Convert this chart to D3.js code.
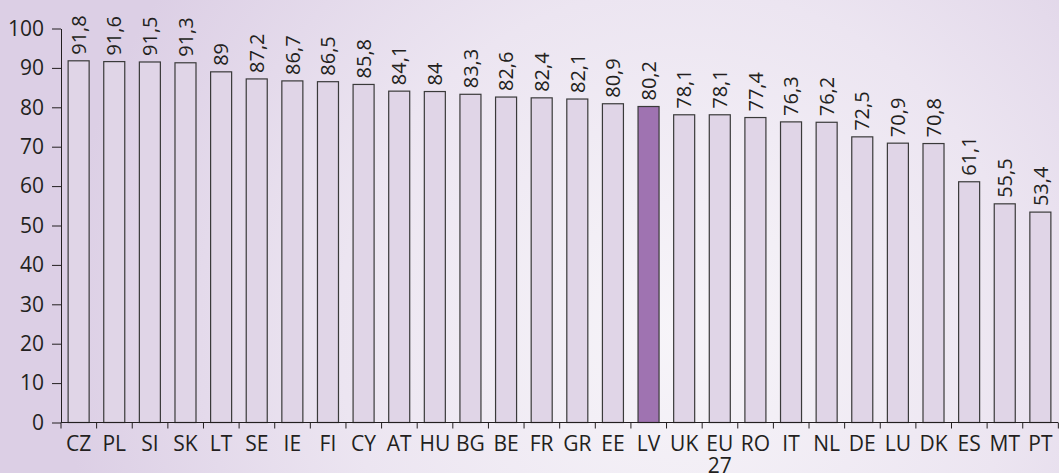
<!DOCTYPE html>
<html lang="lv">
<head>
<meta charset="UTF-8">
<title>Chart</title>
<script src="https://cdnjs.cloudflare.com/ajax/libs/d3/7.8.5/d3.min.js"></script>
<style>
    body { margin: 0; padding: 0; overflow: hidden; }
    svg { display: block; font-family: "Open Sans", "DejaVu Sans", sans-serif; }
    .tick text { fill: #231f20; }
</style>
</head>
<body>
<svg id="chart" width="1059" height="473"></svg>
<script>
// country codes and values
const countries = ["CZ","PL","SI","SK","LT","SE","IE","FI","CY","AT","HU","BG","BE","FR","GR","EE","LV","UK","EU 27","RO","IT","NL","DE","LU","DK","ES","MT","PT"];
const values = [91.8,91.6,91.5,91.3,89,87.2,86.7,86.5,85.8,84.1,84,83.3,82.6,82.4,82.1,80.9,80.2,78.1,78.1,77.4,76.3,76.2,72.5,70.9,70.8,61.1,55.5,53.4];
const highlight = "LV";
const yTicks = [0,10,20,30,40,50,60,70,80,90,100];

const width = 1059, height = 473;
const margin = {top: 28.5, right: 1, bottom: 50.5, left: 61};

const svg = d3.select("#chart");

// background
const defs = svg.append("defs");
const grad = defs.append("radialGradient")
    .attr("id", "bg")
    .attr("gradientUnits", "userSpaceOnUse")
    .attr("cx", 680).attr("cy", 330).attr("r", 620);
grad.append("stop").attr("offset", "0").attr("stop-color", "#f7f5f9");
grad.append("stop").attr("offset", "0.55").attr("stop-color", "#ece5f1");
grad.append("stop").attr("offset", "1").attr("stop-color", "#dccfe5");
svg.append("rect").attr("width", width).attr("height", height).attr("fill", "url(#bg)");

const x = d3.scaleBand()
    .domain(countries)
    .range([margin.left, width - margin.right])
    .paddingInner(0.41)
    .paddingOuter(0.2);

const y = d3.scaleLinear()
    .domain([0, 100])
    .range([height - margin.bottom, margin.top]);

// y axis
const yAxis = svg.append("g")
    .attr("transform", `translate(${margin.left},0)`)
    .call(d3.axisLeft(y).tickValues(yTicks).tickSize(9).tickPadding(8).tickSizeOuter(0));
yAxis.select(".domain").attr("stroke", "#231f20");
yAxis.selectAll(".tick line").attr("stroke", "#231f20");
yAxis.selectAll(".tick text").attr("font-size", 21).attr("font-family", "Open Sans, sans-serif");

// bars
svg.append("g").selectAll("rect")
    .data(countries)
    .join("rect")
    .attr("x", d => x(d))
    .attr("width", x.bandwidth())
    .attr("y", (d, i) => y(values[i]))
    .attr("height", (d, i) => y(0) - y(values[i]))
    .attr("fill", d => d === highlight ? "#9f73b1" : "#e0d5e7")
    .attr("stroke", "#3a3a3a")
    .attr("stroke-width", 1.2);

// value labels
svg.append("g").selectAll("text")
    .data(countries)
    .join("text")
    .attr("transform", (d, i) => `translate(${x(d) + x.bandwidth() / 2},${y(values[i]) - 6}) rotate(-90)`)
    .attr("dy", "0.36em")
    .attr("font-size", 20)
    .attr("fill", "#231f20")
    .text((d, i) => String(values[i]).replace(".", ","));

// x axis
const step = x.step();
const edges = d3.range(countries.length + 1).map(i => margin.left + i * step);
const xAxis = svg.append("g").attr("transform", `translate(0,${y(0)})`);
xAxis.append("line")
    .attr("x1", margin.left).attr("x2", width - margin.right)
    .attr("stroke", "#231f20");
xAxis.selectAll(".edge")
    .data(edges)
    .join("line")
    .attr("class", "edge")
    .attr("x1", d => d).attr("x2", d => d)
    .attr("y1", 0).attr("y2", 6)
    .attr("stroke", "#231f20");

const labels = xAxis.selectAll(".lbl")
    .data(countries)
    .join("text")
    .attr("class", "lbl")
    .attr("x", d => x(d) + x.bandwidth() / 2)
    .attr("y", 28)
    .attr("text-anchor", "middle")
    .attr("font-size", 21)
    .attr("fill", "#231f20");
labels.each(function(d) {
    const parts = d.split(" ");
    const t = d3.select(this);
    parts.forEach((p, k) => {
        t.append("tspan")
            .attr("x", x(d) + x.bandwidth() / 2)
            .attr("dy", k === 0 ? 0 : "1.05em")
            .text(p);
    });
});
</script>
</body>
</html>
